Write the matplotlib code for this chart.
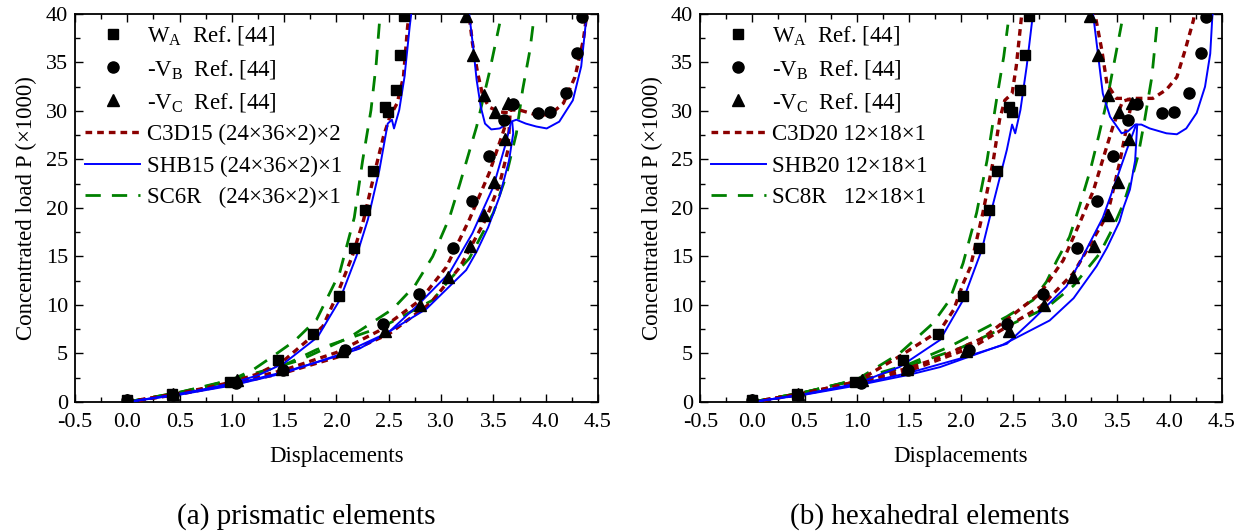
import numpy as np
import matplotlib
matplotlib.use('Agg')
import matplotlib.pyplot as plt
from matplotlib.ticker import MultipleLocator

plt.rcParams['font.family'] = ['Liberation Serif', 'DejaVu Serif']
plt.rcParams['mathtext.fontset'] = 'custom'
plt.rcParams['mathtext.rm'] = 'Liberation Serif'
plt.rcParams['mathtext.it'] = 'Liberation Serif:italic'

# reference points Ref. [44] (same in both panels)
wa_x = [0.0, 0.43, 0.98, 1.44, 1.78, 2.02, 2.17, 2.27, 2.35, 2.46, 2.49, 2.57, 2.61, 2.65]
wa_y = [0.2, 0.8, 2.1, 4.3, 7.0, 10.9, 15.9, 19.8, 23.8, 30.4, 29.9, 32.2, 35.8, 39.8]
vb_x = [0.0, 0.44, 1.04, 1.49, 2.08, 2.44, 2.79, 3.11, 3.30, 3.46, 3.60, 3.69, 3.93, 4.04, 4.19, 4.30, 4.35]
vb_y = [0.2, 0.7, 2.0, 3.3, 5.4, 8.0, 11.1, 15.9, 20.7, 25.4, 29.1, 30.7, 29.8, 29.9, 31.9, 36.0, 39.7]
vc_x = [0.0, 0.44, 1.05, 1.48, 2.05, 2.46, 2.80, 3.07, 3.28, 3.41, 3.51, 3.61, 3.64, 3.52, 3.41, 3.31, 3.24]
vc_y = [0.2, 0.8, 2.3, 3.4, 5.3, 7.3, 10.0, 12.9, 16.1, 19.3, 22.7, 27.1, 30.8, 29.9, 31.6, 35.8, 39.8]

# (a) prismatic elements
a_c3d_wa_x = [0, 0.25, 0.5, 0.75, 1.0, 1.25, 1.5, 1.75, 1.87, 2.0, 2.15, 2.26, 2.37, 2.45, 2.51, 2.58, 2.64, 2.68, 2.70]
a_c3d_wa_y = [0, 0.45, 0.9, 1.45, 2.05, 2.9, 4.3, 6.6, 7.8, 10.9, 15.0, 18.8, 23.9, 27.4, 29.4, 30.8, 33.5, 38.7, 40.5]
a_shb_wa_x = [0, 0.25, 0.5, 0.75, 1.0, 1.25, 1.5, 1.82, 2.03, 2.19, 2.30, 2.41, 2.49, 2.53, 2.55, 2.60, 2.65, 2.70, 2.72]
a_shb_wa_y = [0, 0.42, 0.85, 1.35, 1.95, 2.75, 4.0, 6.7, 10.5, 15.0, 18.8, 23.9, 28.7, 29.1, 28.2, 30.1, 33.5, 38.7, 40.5]
a_sc_wa_x = [0, 0.25, 0.5, 0.75, 1.0, 1.2, 1.39, 1.6, 1.81, 2.03, 2.17, 2.25, 2.33, 2.38, 2.41]
a_sc_wa_y = [0, 0.5, 1.0, 1.6, 2.3, 3.3, 4.7, 6.3, 8.5, 13.3, 19.0, 24.9, 30.1, 34.9, 39.0]

a_c3d_vb_x = [0, 0.5, 1.0, 1.5, 2.0, 2.4, 2.80, 3.05, 3.27, 3.46, 3.59, 3.66, 3.75, 3.91, 4.04, 4.17, 4.28, 4.36, 4.40]
a_c3d_vb_y = [0, 0.85, 1.95, 3.3, 5.1, 7.3, 10.5, 13.9, 18.8, 23.6, 27.7, 30.1, 30.1, 29.6, 29.6, 30.8, 33.5, 37.3, 40.5]
a_shb_vb_x = [0, 0.5, 1.0, 1.5, 2.0, 2.22, 2.50, 2.76, 3.08, 3.30, 3.50, 3.62, 3.67, 3.72, 3.81, 3.91, 4.01, 4.13, 4.26, 4.34, 4.39, 4.40]
a_shb_vb_y = [0, 0.8, 1.8, 3.1, 4.7, 5.5, 7.2, 9.8, 13.3, 17.4, 22.2, 26.7, 28.9, 29.1, 28.7, 28.4, 28.2, 28.9, 31.1, 34.6, 39.7, 40.5]
a_sc_vb_x = [0, 0.5, 1.0, 1.3, 1.65, 2.13, 2.54, 2.75, 2.92, 3.08, 3.18, 3.34, 3.46, 3.56]
a_sc_vb_y = [0, 1.0, 2.3, 3.2, 4.3, 6.7, 9.6, 12.0, 15.0, 19.0, 22.5, 28.4, 33.9, 39.0]

a_c3d_vc_x = [0, 0.5, 1.0, 1.5, 2.0, 2.5, 2.9, 3.18, 3.43, 3.56, 3.64, 3.66, 3.56, 3.46, 3.40, 3.35, 3.30, 3.27, 3.26]
a_c3d_vc_y = [0, 0.8, 1.85, 3.0, 4.6, 7.0, 10.2, 13.9, 18.9, 22.5, 26.0, 29.8, 29.9, 30.4, 31.5, 33.9, 37.0, 39.7, 40.5]
a_shb_vc_x = [0, 0.5, 1.0, 1.49, 2.06, 2.48, 2.86, 3.24, 3.34, 3.45, 3.56, 3.65, 3.69, 3.68,
              3.62, 3.56, 3.48, 3.42, 3.38, 3.34, 3.31, 3.27, 3.26]
a_shb_vc_y = [0, 0.75, 1.7, 2.96, 5.0, 7.1, 9.6, 13.6, 15.5, 18.0, 21.2, 24.9, 27.7, 28.9,
              28.6, 28.2, 28.1, 28.7, 30.4, 33.2, 36.3, 39.9, 40.5]
a_sc_vc_x = [0, 0.5, 1.0, 1.5, 1.81, 2.45, 2.92, 3.08, 3.27, 3.50, 3.62, 3.72, 3.78, 3.85, 3.88]
a_sc_vc_y = [0, 0.95, 2.2, 3.8, 5.4, 7.8, 10.5, 12.6, 14.8, 19.5, 23.2, 27.7, 32.2, 36.3, 38.9]

# (b) hexahedral elements
b_c3d_wa_x = [0, 0.5, 1.0, 1.41, 1.80, 1.93, 2.02, 2.09, 2.21, 2.31, 2.37, 2.42, 2.49, 2.53, 2.58, 2.60]
b_c3d_wa_y = [0, 0.9, 2.1, 4.7, 7.4, 9.5, 12.2, 13.9, 19.5, 24.9, 29.1, 31.1, 31.8, 34.6, 39.7, 40.5]
b_shb_wa_x = [0, 0.5, 1.0, 1.41, 1.80, 2.02, 2.20, 2.31, 2.44, 2.49, 2.52, 2.57, 2.63, 2.69, 2.70]
b_shb_wa_y = [0, 0.8, 1.9, 3.6, 6.4, 10.5, 15.7, 20.5, 26.0, 28.6, 27.7, 30.1, 34.6, 40.0, 40.5]
b_sc_wa_x = [0, 0.5, 1.0, 1.41, 1.73, 1.89, 2.02, 2.15, 2.25, 2.34, 2.41, 2.45]
b_sc_wa_y = [0, 1.0, 2.3, 5.0, 8.1, 10.5, 14.3, 19.5, 24.9, 31.1, 35.6, 38.9]

b_c3d_vb_x = [0, 0.5, 1.0, 1.5, 1.80, 2.21, 2.44, 2.76, 2.98, 3.14, 3.27, 3.36, 3.46, 3.55,
              3.64, 3.84, 3.97, 4.07, 4.15, 4.23, 4.24]
b_c3d_vb_y = [0, 0.9, 2.1, 3.5, 4.6, 6.6, 8.5, 11.2, 14.6, 18.5, 21.8, 25.0, 28.5, 31.0,
              31.3, 31.3, 32.2, 33.5, 36.3, 39.4, 40.5]
b_shb_vb_x = [0, 0.5, 1.0, 1.5, 2.0, 2.44, 2.69, 3.01, 3.14, 3.24, 3.36, 3.49, 3.59, 3.68,
              3.73, 3.81, 3.97, 4.07, 4.16, 4.26, 4.34, 4.39, 4.41, 4.42]
b_shb_vb_y = [0, 0.8, 1.8, 3.0, 4.5, 6.0, 8.5, 11.9, 14.4, 16.5, 19.0, 22.9, 26.0, 28.6,
              28.6, 28.2, 27.7, 27.6, 28.2, 29.8, 32.5, 35.9, 39.7, 40.5]
b_sc_vb_x = [0, 0.5, 1.0, 1.5, 1.89, 2.44, 2.69, 2.82, 2.92, 3.04, 3.14, 3.24, 3.32, 3.40, 3.48, 3.54]
b_sc_vb_y = [0, 1.0, 2.3, 3.9, 5.7, 8.8, 10.5, 12.4, 14.6, 17.0, 20.3, 23.9, 27.4, 31.1, 35.6, 39.0]

b_c3d_vc_x = [0, 0.5, 1.0, 1.5, 2.12, 2.76, 3.08, 3.36, 3.43, 3.52, 3.59, 3.64,
              3.55, 3.49, 3.40, 3.35, 3.29, 3.28]
b_c3d_vc_y = [0, 0.85, 1.9, 3.2, 5.7, 9.8, 13.3, 18.5, 20.5, 24.6, 28.4, 31.1,
              31.3, 31.3, 32.8, 36.3, 39.7, 40.5]
b_shb_vc_x = [0, 0.5, 1.0, 1.5, 1.80, 2.4, 2.85, 3.08, 3.30, 3.40, 3.52, 3.56, 3.62, 3.67, 3.69,
              3.67, 3.60, 3.54, 3.43, 3.36, 3.32, 3.27, 3.26]
b_shb_vc_y = [0, 0.75, 1.7, 2.8, 3.6, 5.9, 8.4, 10.7, 14.0, 15.9, 18.6, 20.1, 21.9, 24.9, 28.6,
              28.6, 27.9, 27.7, 29.4, 31.8, 35.3, 39.7, 40.5]
b_sc_vc_x = [0, 0.5, 1.0, 1.5, 2.0, 2.44, 2.82, 3.08, 3.33, 3.45, 3.56, 3.65, 3.70, 3.76, 3.83, 3.88]
b_sc_vc_y = [0, 1.0, 2.25, 3.7, 5.6, 7.8, 9.7, 12.0, 15.3, 17.8, 20.5, 23.5, 25.5, 29.0, 33.5, 38.9]

panels = [
    dict(rect=[0.0602, 0.2444, 0.4197, 0.7293],
         c3d=[(a_c3d_wa_x, a_c3d_wa_y), (a_c3d_vb_x, a_c3d_vb_y), (a_c3d_vc_x, a_c3d_vc_y)],
         shb=[(a_shb_wa_x, a_shb_wa_y), (a_shb_vb_x, a_shb_vb_y), (a_shb_vc_x, a_shb_vc_y)],
         sc=[(a_sc_wa_x, a_sc_wa_y), (a_sc_vb_x, a_sc_vb_y), (a_sc_vc_x, a_sc_vc_y)],
         labels=['C3D15 (24×36×2)×2', 'SHB15 (24×36×2)×1', 'SC6R   (24×36×2)×1'],
         caption='(a) prismatic elements', cx=0.246),
    dict(rect=[0.5620, 0.2444, 0.4185, 0.7293],
         c3d=[(b_c3d_wa_x, b_c3d_wa_y), (b_c3d_vb_x, b_c3d_vb_y), (b_c3d_vc_x, b_c3d_vc_y)],
         shb=[(b_shb_wa_x, b_shb_wa_y), (b_shb_vb_x, b_shb_vb_y), (b_shb_vc_x, b_shb_vc_y)],
         sc=[(b_sc_wa_x, b_sc_wa_y), (b_sc_vb_x, b_sc_vb_y), (b_sc_vc_x, b_sc_vc_y)],
         labels=['C3D20 12×18×1', 'SHB20 12×18×1', 'SC8R   12×18×1'],
         caption='(b) hexahedral elements', cx=0.746),
]

fig = plt.figure(figsize=(12.46, 5.32), dpi=100)

for p in panels:
    ax = fig.add_axes(p['rect'])
    h1, = ax.plot(wa_x, wa_y, 's', color='black', ms=7, ls='none', zorder=5)
    h2, = ax.plot(vb_x, vb_y, 'o', color='black', ms=8, ls='none', zorder=5)
    h3, = ax.plot(vc_x, vc_y, '^', color='black', ms=8.5, ls='none', zorder=5)
    for x, y in p['c3d']:
        l1, = ax.plot(x, y, color='#8B0000', lw=2.4, dashes=(2.0, 1.5), zorder=3)
    for x, y in p['shb']:
        l2, = ax.plot(x, y, color='#0000FF', lw=1.4, zorder=4)
    for x, y in p['sc']:
        l3, = ax.plot(x, y, color='#008000', lw=2.0, dashes=(5.5, 4.0), zorder=2)

    ax.set_xlim(-0.5, 4.5)
    ax.set_ylim(0, 40)
    ax.xaxis.set_major_locator(MultipleLocator(0.5))
    ax.xaxis.set_minor_locator(MultipleLocator(0.25))
    ax.yaxis.set_major_locator(MultipleLocator(5))
    ax.yaxis.set_minor_locator(MultipleLocator(2.5))
    ax.xaxis.set_major_formatter(plt.FormatStrFormatter('%.1f'))
    ax.tick_params(which='both', direction='in', top=True, right=True, labelsize=16)
    ax.tick_params(which='major', length=6, width=1)
    ax.tick_params(which='minor', length=3.5, width=1)
    ax.tick_params(axis='x', which='major', pad=8)
    ax.tick_params(axis='y', which='major', pad=5)
    for s in ax.spines.values():
        s.set_linewidth(1.3)
    ax.set_xlabel('Displacements', fontsize=16.5, labelpad=10)
    ax.set_ylabel('Concentrated load P (×1000)', fontsize=16.5, labelpad=6)

    leg = ax.legend([h1, h2, h3, l1, l2, l3],
                    [r'W$_{\mathrm{A}}$  Ref. [44]', r'-V$_{\mathrm{B}}$  Ref. [44]',
                     r'-V$_{\mathrm{C}}$  Ref. [44]'] + p['labels'],
                    loc='upper left', frameon=False, fontsize=16.5, handlelength=2.4,
                    handletextpad=0.3, labelspacing=0.45, borderaxespad=0.0,
                    borderpad=0.45)

    fig.text(p['cx'], 0.03, p['caption'], ha='center', va='center', fontsize=21)

fig.savefig('out.png', dpi=100)
